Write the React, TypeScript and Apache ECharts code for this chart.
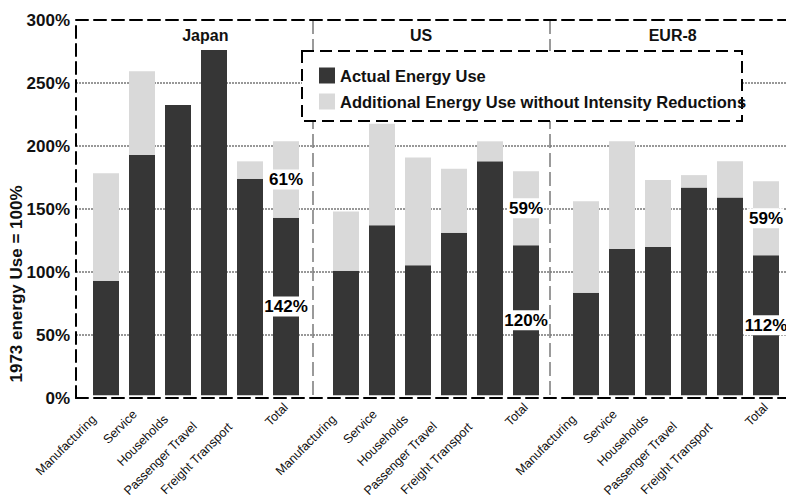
import React, { useEffect, useRef } from "react";
import * as echarts from "echarts";

const groups = ["Japan", "US", "EUR-8"];
const sectors = ["Manufacturing", "Service", "Households", "Passenger Travel", "Freight Transport", "Total"];

const japanActual = [91.5, 192, 232, 276, 173, 142];
const japanAdditional = [86, 67, 0, 0, 14, 61];
const usActual = [99.5, 136, 104, 130, 187, 120];
const usAdditional = [47.5, 81, 86, 51, 16, 59];
const eurActual = [82, 117, 118.5, 166, 158, 112];
const eurAdditional = [73, 86, 53.5, 10, 29, 59];

const actualByGroup = [japanActual, usActual, eurActual];
const additionalByGroup = [japanAdditional, usAdditional, eurAdditional];

const yMin = 0;
const yMax = 300;
const yInterval = 50;

const ACTUAL = "Actual Energy Use";
const ADDITIONAL = "Additional Energy Use without Intensity Reductions";
const FONT = "'Liberation Sans', Arial, Helvetica, sans-serif";

export default function App() {
  const ref = useRef<HTMLDivElement>(null);
  useEffect(() => {
    if (!ref.current) return;
    const chart = echarts.init(ref.current, null, { renderer: "svg" });

    const totalLabel = {
      show: true,
      position: "inside",
      formatter: "{c}%",
      color: "#000",
      fontWeight: "bold",
      fontSize: 17,
      fontFamily: FONT,
      backgroundColor: "#fff",
      padding: [2, 1, 1, 1],
    };

    const withTotalLabel = (arr: number[]) =>
      arr.map((v, i) => (i === sectors.length - 1 ? { value: v, label: totalLabel } : v));

    // label styling: shift of each rotated category label along its own direction
    const sectorLabelPad = [17, 10, 17, 27, 28, 0];
    const sectorRich: any = {};
    sectorLabelPad.forEach((p, i) => {
      sectorRich["p" + i] = {
        padding: [0, p, 0, 0],
        fontSize: 12.5,
        color: "#111",
        fontFamily: FONT,
      };
    });

    const groupLabelPad = [
      [0, 0, 0, 22],
      [0, 20, 0, 0],
      [0, 0, 0, 10],
    ];
    const groupRich: any = {};
    groupLabelPad.forEach((p, i) => {
      groupRich["g" + i] = {
        padding: p,
        fontSize: 16,
        fontWeight: "bold",
        color: "#111",
        fontFamily: FONT,
      };
    });

    const groupGrids = groups.map((_, g) => ({
      left: 88 + g * 240,
      top: 20,
      width: 216,
      height: 378,
    }));

    const series: any[] = [];
    groups.forEach((_, g) => {
      series.push({
        name: ACTUAL,
        type: "bar",
        stack: "s" + g,
        xAxisIndex: g + 2,
        yAxisIndex: g + 1,
        barWidth: 26,
        itemStyle: { color: "#363636" },
        data: withTotalLabel(actualByGroup[g]),
        z: 2,
      });
      series.push({
        name: ADDITIONAL,
        type: "bar",
        stack: "s" + g,
        xAxisIndex: g + 2,
        yAxisIndex: g + 1,
        barWidth: 26,
        itemStyle: { color: "#d9d9d9" },
        data: withTotalLabel(additionalByGroup[g]),
        z: 2,
      });
    });

    const option: any = {
      animation: false,
      backgroundColor: "#fff",
      textStyle: { fontFamily: FONT },
      grid: [{ left: 76, top: 20, width: 720, height: 378 }, ...groupGrids],
      xAxis: [
        {
          gridIndex: 0,
          type: "value",
          min: 0,
          max: 3,
          interval: 1,
          position: "bottom",
          axisLine: { show: true, lineStyle: { color: "#000", width: 2, type: [12, 6] } },
          axisTick: { show: false },
          axisLabel: { show: false },
          splitLine: {
            show: true,
            showMinLine: false,
            showMaxLine: false,
            lineStyle: { color: "#7a7a7a", width: 1.5, type: [14, 5] },
          },
        },
        {
          gridIndex: 0,
          type: "category",
          position: "top",
          data: groups,
          axisLine: { show: true, lineStyle: { color: "#000", width: 2, type: [12, 6] } },
          axisTick: { show: false },
          axisLabel: {
            inside: true,
            margin: 7,
            color: "#111",
            fontWeight: "bold",
            fontSize: 16,
            fontFamily: FONT,
            formatter: (v: string, i: number) => `{g${i}|${v}}`,
            rich: groupRich,
          },
          splitLine: { show: false },
        },
        ...groups.map((_, g) => ({
          gridIndex: g + 1,
          type: "category",
          data: sectors,
          axisLine: { show: false },
          axisTick: { show: false },
          axisLabel: {
            rotate: 45,
            margin: 10,
            interval: 0,
            fontSize: 12.5,
            color: "#111",
            fontFamily: FONT,
            formatter: (v: string, i: number) => `{p${i}|${v}}`,
            rich: sectorRich,
          },
        })),
      ],
      yAxis: [
        {
          gridIndex: 0,
          type: "value",
          min: yMin,
          max: yMax,
          interval: yInterval,
          axisLine: { show: true, lineStyle: { color: "#000", width: 2, type: [12, 6] } },
          axisTick: { show: false },
          axisLabel: {
            formatter: "{value}%",
            margin: 6,
            color: "#111",
            fontWeight: "bold",
            fontSize: 17,
            fontFamily: FONT,
          },
          splitLine: {
            show: true,
            showMinLine: false,
            showMaxLine: false,
            lineStyle: { color: "#777", width: 1.5, type: [2, 1] },
          },
        },
        ...groups.map((_, g) => ({
          gridIndex: g + 1,
          type: "value",
          min: yMin,
          max: yMax,
          interval: yInterval,
          show: false,
          splitLine: { show: false },
        })),
      ],
      legend: {
        orient: "vertical",
        left: 314,
        top: 62,
        itemWidth: 16,
        itemHeight: 16,
        itemGap: 9,
        icon: "rect",
        z: 10,
        data: [ACTUAL, ADDITIONAL],
        textStyle: { color: "#111", fontWeight: "bold", fontSize: 16.5, fontFamily: FONT },
      },
      graphic: [
        {
          type: "rect",
          z: 5,
          shape: { x: 302, y: 51, width: 440, height: 70 },
          style: { fill: "#fff", stroke: "#000", lineWidth: 2, lineDash: [12, 6] },
        },
        {
          type: "text",
          x: 16,
          y: 284,
          rotation: Math.PI / 2,
          z: 5,
          style: {
            text: "1973 energy Use = 100%",
            fill: "#111",
            fontWeight: "bold",
            fontSize: 17,
            fontFamily: FONT,
            align: "center",
            verticalAlign: "middle",
          },
        },
      ],
      series,
    };

    chart.setOption(option);
    return () => chart.dispose();
  }, []);

  return (
    <div
      ref={ref}
      style={{ position: "fixed", left: 0, top: 0, width: 786, height: 500, background: "#fff" }}
    />
  );
}
